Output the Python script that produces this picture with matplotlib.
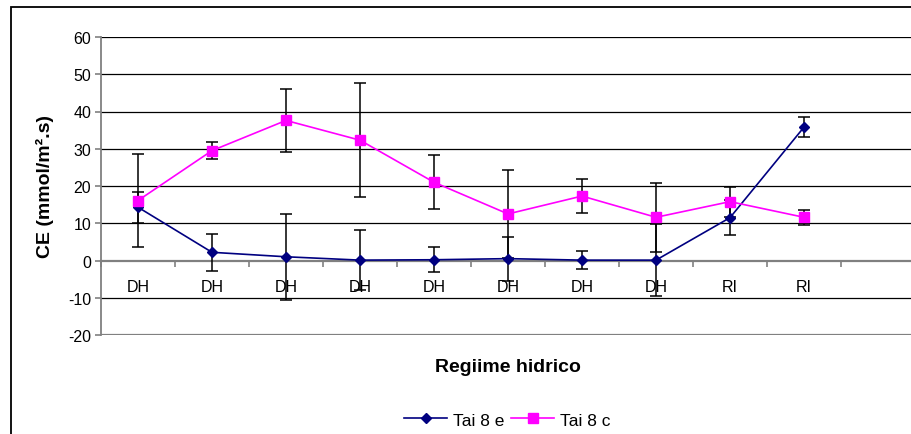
import numpy as np
import matplotlib
matplotlib.use("Agg")
import matplotlib.pyplot as plt
from matplotlib.patches import Rectangle
from matplotlib.lines import Line2D

plt.rcParams['font.family'] = ['Liberation Sans', 'DejaVu Sans']
plt.rcParams['axes.unicode_minus'] = False

categories = ['DH', 'DH', 'DH', 'DH', 'DH', 'DH', 'DH', 'DH', 'RI', 'RI']
tai8e = [14.3, 2.2, 1.0, 0.1, 0.2, 0.5, 0.1, 0.1, 11.5, 35.8]
tai8e_err = [4.2, 4.9, 11.6, 8.1, 3.4, 5.9, 2.4, 9.7, 4.7, 2.7]
tai8c = [16.1, 29.5, 37.6, 32.3, 21.0, 12.5, 17.3, 11.6, 15.8, 11.6]
tai8c_err = [12.4, 2.3, 8.5, 15.3, 7.3, 11.9, 4.6, 9.3, 4.0, 2.0]
yticks = [-20, -10, 0, 10, 20, 30, 40, 50, 60]

W, H = 912, 435
fig = plt.figure(figsize=(W / 100, H / 100), dpi=100)
fig.patches.append(Rectangle((11 / W, -0.2), 1.2, 1.2 - 8 / H, transform=fig.transFigure,
                             fill=False, ec='black', lw=1.3))

ax = fig.add_axes([101 / W, (H - 336) / H, (915 - 101) / W, (336 - 38) / H])
x = np.arange(len(categories))

ax.set_xlim(-0.5, 10.5)
ax.set_ylim(-20, 60)
ax.set_yticks(yticks)
for v in yticks[1:]:
    if v != 0:
        ax.axhline(v, color='black', lw=0.9, zorder=1)
ax.axhline(-20, color='#808080', lw=1.6, zorder=1)

for s in ['top', 'right']:
    ax.spines[s].set_visible(False)
ax.spines['left'].set_color('#808080')
ax.spines['left'].set_linewidth(1.3)
ax.spines['bottom'].set_position(('data', 0))
ax.spines['bottom'].set_color('#808080')
ax.spines['bottom'].set_linewidth(1.6)

ax.set_xticks(x)
ax.set_xticklabels(categories)
ax.set_xticks(np.arange(-0.5, 10, 1.0), minor=True)
ax.tick_params(axis='x', which='major', length=0, pad=13, labelsize=11.5)
ax.tick_params(axis='x', which='minor', length=4, color='#808080', width=1.2)
ax.tick_params(axis='y', length=4, color='#808080', width=1.2, pad=3, labelsize=11.5)

ax.errorbar(x, tai8e, yerr=tai8e_err, color='#000080', lw=1.2, marker='D', ms=5.5,
            ecolor='black', elinewidth=1.1, capsize=4, capthick=1.1, zorder=3)
ax.errorbar(x, tai8c, yerr=tai8c_err, color='#FF00FF', lw=1.2, marker='s', ms=6.5,
            ecolor='black', elinewidth=1.1, capsize=4, capthick=1.1, zorder=3)

fig.text(508 / W, 1 - 368 / H, 'Regiime hidrico', ha='center', va='center',
         fontsize=14, fontweight='bold')
fig.text(45 / W, 1 - 186 / H, 'CE (mmol/m\u00b2.s)', ha='center', va='center',
         rotation=90, fontsize=14, fontweight='bold')

h1 = Line2D([], [], color='#000080', lw=1.2, marker='D', ms=5.5)
h2 = Line2D([], [], color='#FF00FF', lw=1.2, marker='s', ms=6.5)
fig.legend([h1, h2], ['Tai 8 e', 'Tai 8 c'], loc='center', bbox_to_anchor=(507 / W, 1 - 421 / H),
           ncol=2, frameon=False, fontsize=12.5, handlelength=2.5, handletextpad=0.3,
           columnspacing=0.4)

fig.savefig('out.png', dpi=100)
